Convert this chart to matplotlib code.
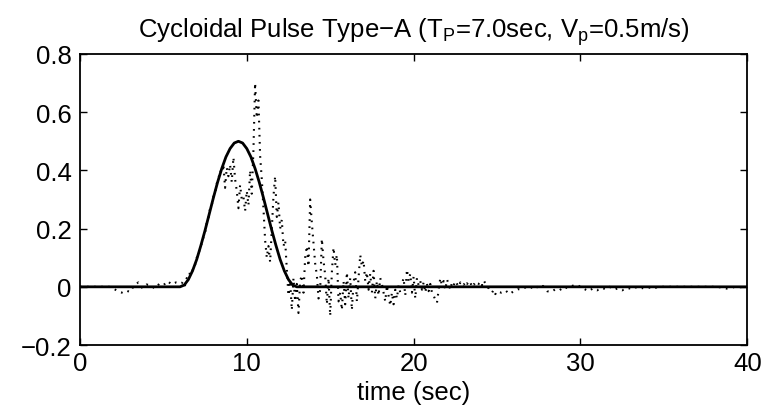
import numpy as np
import matplotlib
matplotlib.use("Agg")
import matplotlib.pyplot as plt
from matplotlib.ticker import FuncFormatter

plt.rcParams['font.family'] = ['Liberation Sans', 'DejaVu Sans']
plt.rcParams['mathtext.fontset'] = 'custom'
plt.rcParams['mathtext.rm'] = 'Liberation Sans'

# cycloidal pulse (solid line), read at 0.25 s steps over the pulse
pulse_t = [0, 6.0, 6.25, 6.5, 6.75, 7.0, 7.25, 7.5, 7.75, 8.0, 8.25, 8.5, 8.75,
           9.0, 9.25, 9.5, 9.75, 10.0, 10.25, 10.5, 10.75, 11.0, 11.25, 11.5,
           11.75, 12.0, 12.25, 12.5, 12.75, 13.0, 40]
pulse_v = [0, 0, .006, .025, .055, .094, .142, .194, .25, .306, .359, .406, .446,
           .475, .494, .5, .494, .475, .446, .406, .359, .306, .25, .194,
           .142, .094, .055, .025, .006, 0, 0]

# measured record (dotted), three pieces with different sampling
meas_a = [0, 0, 0, 0, 0, 0, 0, 0,
          -0.005, -0.015, -0.02, -0.012, -0.018, 0.005, 0.015, -0.005, 0.008,
          0.004, -0.006, 0.01, 0.005, 0.02, 0.008, 0.015, 0.01]            # 0 - 6 s
meas_b = [0.012, 0.02, 0.005, 0.03, 0.028, 0.05, 0.045, 0.07, 0.075,
          0.10, 0.105, 0.14, 0.148, 0.17, 0.185, 0.22, 0.235, 0.27, 0.28,
          0.31, 0.32, 0.355, 0.37, 0.40, 0.39, 0.42, 0.34, 0.41, 0.38,
          0.42, 0.36, 0.445, 0.37, 0.33, 0.27, 0.35, 0.30, 0.31, 0.26,
          0.33, 0.28, 0.40, 0.32, 0.47, 0.70, 0.58, 0.64, 0.45, 0.37,
          0.27, 0.16, 0.10, 0.14, 0.085, 0.20, 0.31, 0.38, 0.24, 0.29,
          0.20, 0.23, 0.14, 0.16, 0.06, -0.03, 0.02, -0.08, 0.03, -0.05,
          0.01,
          -0.09, 0.02, 0.04, -0.02, 0.10, 0.14, 0.07, 0.30, 0.22,
          0.15, 0.08, 0.04, -0.04, -0.01, 0.165, 0.09, 0.04, -0.06, 0.03,
          -0.10, 0.05, 0.135, 0.075, 0.11, -0.05, -0.02, -0.08, 0.02, -0.06,
          0.05, -0.04, 0.03, -0.08, 0.015, 0.05, -0.05, 0.03, 0.11, 0.07,
          0.09, 0.02, 0.05, -0.01, 0.045, -0.02, 0.055, -0.04, 0.02, -0.03,
          0.03, 0.01, -0.02, -0.05, 0.005, -0.03, -0.065, -0.02, -0.06, -0.01,
          -0.04, 0.005, -0.02, 0.01, 0.03, -0.03, 0.06, 0.02, 0.045, -0.02,
          0.035, -0.04, 0.03, 0.005, 0.02, -0.01, 0.015, -0.02, 0.01, -0.015,
          0.01, -0.02, -0.03, -0.045, -0.055, -0.01, 0.03, 0.005, 0.02, -0.01,
          0.025, 0.01, -0.01, 0.015, 0.005, 0.02, 0.01, 0.0, 0.015, 0.005,
          0.01, 0.0, 0.012, 0.005, 0.015, 0.0, 0.01, 0.005, 0.015, 0.01,
          0.018, 0.005, 0.022, 0.012, 0.0, -0.005, -0.015, -0.02, -0.01, -0.025,
          -0.015]                                                           # 6.1 - 25 s
meas_c = [-0.02, -0.012, -0.025, -0.015, -0.008, -0.01, 0.0, -0.005,
          0.005, -0.005, 0.003, -0.015, -0.018, -0.008, -0.012, 0.0,
          -0.005, 0.003, 0.008, 0.0, -0.008, -0.015, -0.005, -0.012,
          -0.003, -0.008, 0.0, -0.01, -0.005, -0.012, -0.004, -0.006,
          0.0, -0.008, -0.004, -0.006, 0.0, -0.003,
          0, 0, 0, 0, 0, 0, 0, 0, 0, 0, 0, 0, 0, 0, 0,
          -0.004, -0.006, -0.005, 0.0, -0.002, 0.0, 0.0]                    # 25.25 - 40 s

meas_t = np.concatenate([np.linspace(0, 6, len(meas_a)),
                         np.linspace(6.1, 25, len(meas_b)),
                         np.linspace(25.25, 40, len(meas_c))])
meas_v = np.concatenate([meas_a, meas_b, meas_c])

fig = plt.figure(figsize=(7.76, 4.10), dpi=100)
ax = fig.add_axes([0.103, 0.156, 0.860, 0.710])

ax.plot(meas_t, meas_v, color='black', lw=1.5, linestyle=(0, (0.8, 2.6)))
ax.plot(pulse_t, pulse_v, color='black', lw=2.0)

ax.set_xlim(0, 40)
ax.set_ylim(-0.2, 0.8)
ax.set_xticks([0, 10, 20, 30, 40])
ax.set_yticks([-0.2, 0, 0.2, 0.4, 0.6, 0.8])
ax.yaxis.set_major_formatter(FuncFormatter(lambda v, p: f'{v:g}'.replace('-', '\u2212')))
ax.tick_params(direction='in', top=True, right=True, length=5, width=1,
               labelsize=18.5, pad=4)
ax.tick_params(axis='y', pad=6)
for s in ax.spines.values():
    s.set_linewidth(1.3)

ax.set_xlabel('time (sec)', fontsize=18.5, labelpad=4)
ax.set_title('Cycloidal Pulse Type\u2212A (T$\\mathregular{_P}$=7.0sec, '
             'V$\\mathregular{_p}$=0.5m/s)', fontsize=18.5, pad=12)

plt.savefig('out.png', dpi=100)
